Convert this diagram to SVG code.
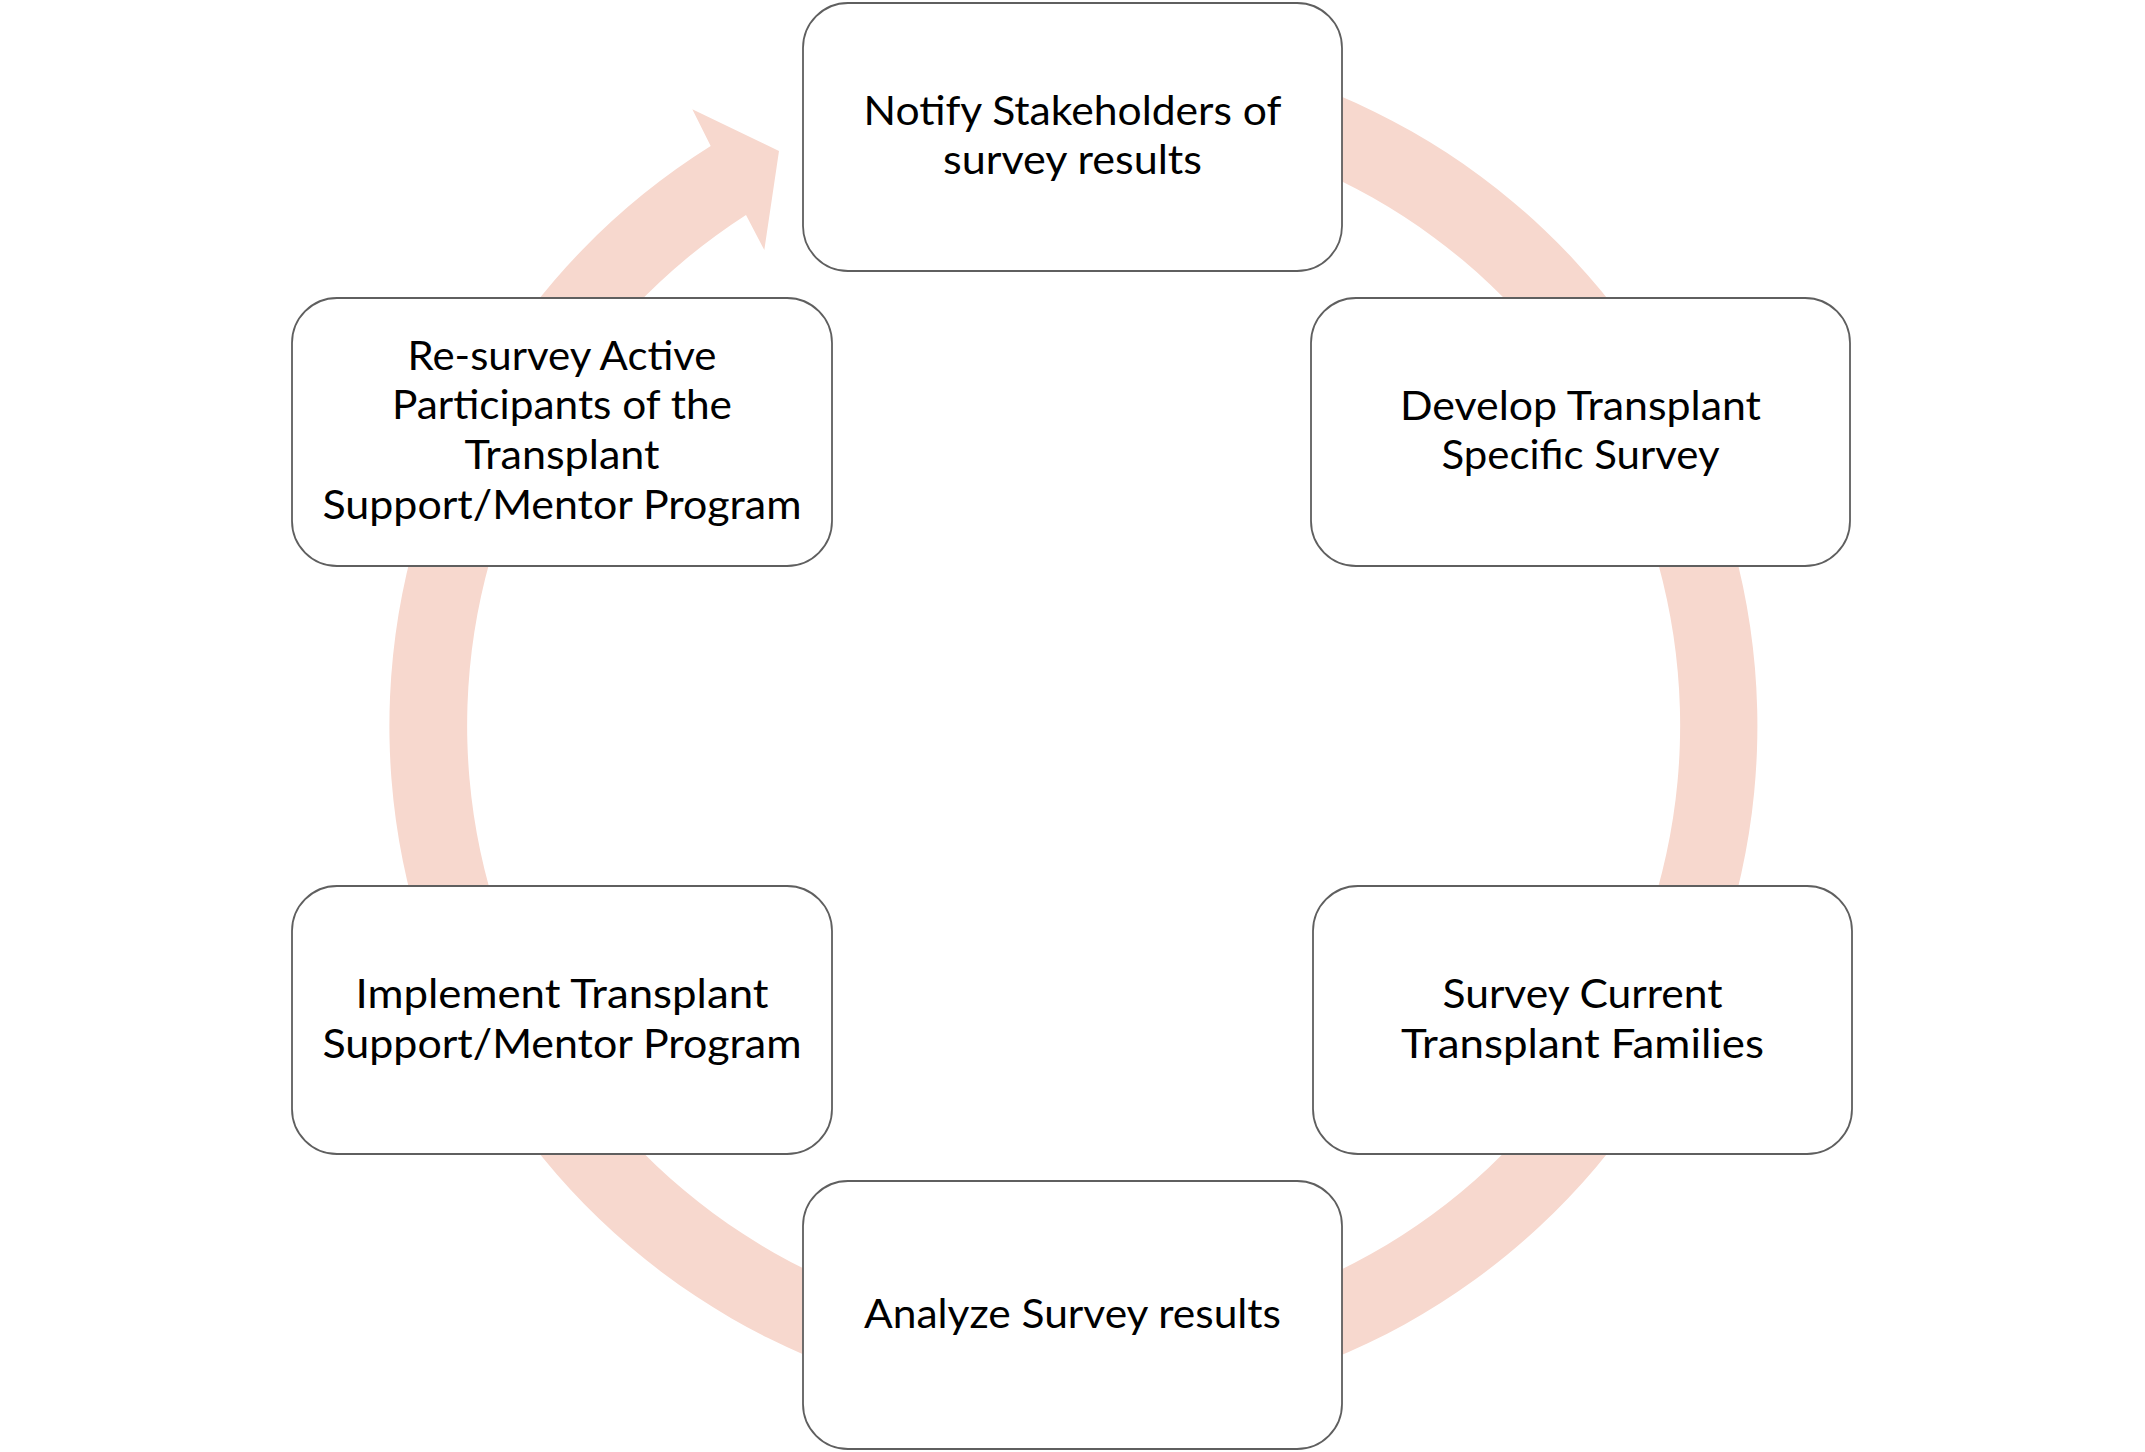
<svg xmlns="http://www.w3.org/2000/svg" width="2145" height="1452" viewBox="0 0 2145 1452">
  <style>
    .box { fill: #ffffff; stroke: #5f5f5f; stroke-width: 1.8; }
    .lbl { font-family: "Lato", "Liberation Sans", sans-serif; font-size: 40px; fill: #000000; text-anchor: middle; }
    .band { fill: #F7D8CE; stroke: none; }
  </style>
  <rect width="2145" height="1452" fill="#ffffff"/>
  <g id="connectors">
    <path class="band" d="M 1012.9 44.6 A 684 684 0 1 1 710.7 146 L 692.3 109.3 L 779 151 L 764.3 250 L 746 215 A 606.5 606.5 0 1 0 1019.6 121.3 Z"/>
  </g>
  <g id="node-notify">
    <rect class="box" x="803" y="3" width="539" height="268" rx="45" ry="45"/>
    <text class="lbl" x="1072.5" y="125" textLength="418" lengthAdjust="spacingAndGlyphs">Notify Stakeholders of</text>
    <text class="lbl" x="1072.5" y="174" textLength="259" lengthAdjust="spacingAndGlyphs">survey results</text>
  </g>
  <g id="node-develop">
    <rect class="box" x="1311" y="298" width="539" height="268" rx="45" ry="45"/>
    <text class="lbl" x="1580.5" y="420" textLength="361" lengthAdjust="spacingAndGlyphs">Develop Transplant</text>
    <text class="lbl" x="1580.5" y="469" textLength="278" lengthAdjust="spacingAndGlyphs">Specific Survey</text>
  </g>
  <g id="node-survey">
    <rect class="box" x="1313" y="886" width="539" height="268" rx="45" ry="45"/>
    <text class="lbl" x="1582.5" y="1008" textLength="280" lengthAdjust="spacingAndGlyphs">Survey Current</text>
    <text class="lbl" x="1582.5" y="1058" textLength="363" lengthAdjust="spacingAndGlyphs">Transplant Families</text>
  </g>
  <g id="node-analyze">
    <rect class="box" x="803" y="1181" width="539" height="268" rx="45" ry="45"/>
    <text class="lbl" x="1072.5" y="1328" textLength="417" lengthAdjust="spacingAndGlyphs">Analyze Survey results</text>
  </g>
  <g id="node-implement">
    <rect class="box" x="292" y="886" width="540" height="268" rx="45" ry="45"/>
    <text class="lbl" x="562" y="1008" textLength="413" lengthAdjust="spacingAndGlyphs">Implement Transplant</text>
    <text class="lbl" x="562" y="1058" textLength="479" lengthAdjust="spacingAndGlyphs">Support/Mentor Program</text>
  </g>
  <g id="node-resurvey">
    <rect class="box" x="292" y="298" width="540" height="268" rx="45" ry="45"/>
    <text class="lbl" x="562" y="369.5" textLength="309" lengthAdjust="spacingAndGlyphs">Re-survey Active</text>
    <text class="lbl" x="562" y="419.3" textLength="340" lengthAdjust="spacingAndGlyphs">Participants of the</text>
    <text class="lbl" x="562" y="469.1" textLength="195" lengthAdjust="spacingAndGlyphs">Transplant</text>
    <text class="lbl" x="562" y="518.9" textLength="479" lengthAdjust="spacingAndGlyphs">Support/Mentor Program</text>
  </g>
</svg>
